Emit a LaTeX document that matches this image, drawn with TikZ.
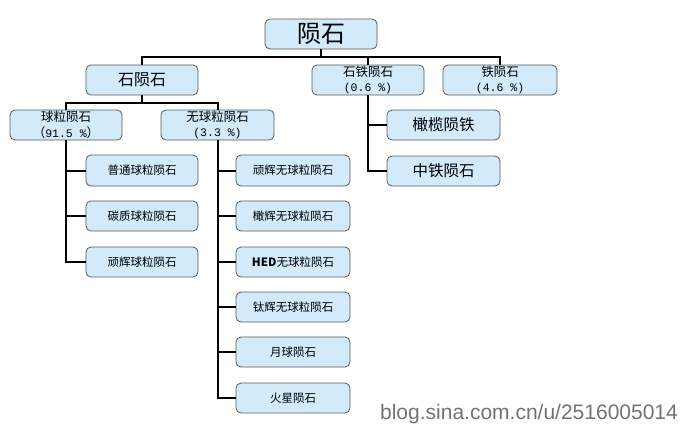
\documentclass[tikz,border=0pt]{standalone}
\usepackage{fontspec}
\setmainfont{Noto Sans CJK SC}
\newfontfamily\wmfont{Liberation Sans}
\newfontfamily\pctfont{Liberation Mono}
\newcommand{\pct}[1]{{\pctfont\fontsize{11.5}{15.5}\selectfont #1}}
\definecolor{boxfill}{HTML}{D2EAFA}
\definecolor{boxline}{HTML}{5A5A5A}
\begin{document}
\begin{tikzpicture}[x=1pt,y=-1pt,
  box/.style={draw=boxline,line width=0.8pt,fill=boxfill,rounded corners=5pt,
    minimum width=112pt,minimum height=30pt,inner sep=0pt,align=center},
  leaf/.style={box,font=\fontsize{11.5}{13}\selectfont},
  twoline/.style={box,font=\fontsize{12.5}{15.5}\selectfont},
  conn/.style={line width=2pt,black}]
\fill[white] (0,0) rectangle (683,432);
\useasboundingbox (0,0) rectangle (683,432);
% level 0
\node[box,font=\fontsize{24}{26}\selectfont] (root) at (321,34) {陨石};
% level 1
\node[box,font=\fontsize{16}{18}\selectfont] (stone) at (142,80) {石陨石};
\node[twoline] (stoneiron) at (368,80) {石铁陨石\\\pct{(0.6 \%)}};
\node[twoline,minimum width=114pt] (iron) at (500,80) {铁陨石\\\pct{(4.6 \%)}};
% level 2
\node[twoline] (chond) at (66,125) {球粒陨石\\（\pct{91.5 \%}）};
\node[twoline,minimum width=113pt] (achond) at (217.5,125) {无球粒陨石\\\pct{(3.3 \%)}};
\node[box,minimum width=113pt,font=\fontsize{15.5}{17}\selectfont] (s1) at (443.5,125) {橄榄陨铁};
\node[box,minimum width=113pt,font=\fontsize{15.5}{17}\selectfont] (s2) at (443.5,171) {中铁陨石};
% chondrite children
\node[leaf,minimum height=31pt] (c1) at (142,170.5) {普通球粒陨石};
\node[leaf] (c2) at (142,216) {碳质球粒陨石};
\node[leaf] (c3) at (142,262) {顽辉球粒陨石};
% achondrite children
\node[leaf,minimum width=114pt,minimum height=31pt] (a1) at (293,170.5) {顽辉无球粒陨石};
\node[leaf,minimum width=114pt] (a2) at (293,216) {橄辉无球粒陨石};
\node[leaf,minimum width=114pt] (a3) at (293,262) {\textbf{HED}无球粒陨石};
\node[leaf,minimum width=114pt] (a4) at (293,307) {钛辉无球粒陨石};
\node[leaf,minimum width=114pt] (a5) at (293,352) {月球陨石};
\node[leaf,minimum width=114pt] (a6) at (293,398) {火星陨石};
% connectors
\coordinate (h1) at (321,57);
\coordinate (h2) at (142,103);
\draw[conn] (root.south) -- (h1);
\draw[conn] (stone.north) |- (h1) -| (iron.north);
\draw[conn] (stoneiron.north) -- (stoneiron.north |- h1);
\draw[conn] (stone.south) -- (h2);
\draw[conn] (chond.north) |- (h2) -| (achond.north);
\draw[conn] (chond.south) |- (c3.west);
\draw[conn] (chond.south |- c1.west) -- (c1.west);
\draw[conn] (chond.south |- c2.west) -- (c2.west);
\draw[conn] (achond.south) |- (a6.west);
\foreach \n in {a1,a2,a3,a4,a5}{\draw[conn] (achond.south |- \n.west) -- (\n.west);}
\draw[conn] (stoneiron.south) |- (s2.west);
\draw[conn] (stoneiron.south |- s1.west) -- (s1.west);
% watermark
\node[text=black!55,font=\wmfont\fontsize{21}{23}\selectfont,inner sep=0pt] (wm) at (529,414) {blog.sina.com.cn/u/2516005014};
\end{tikzpicture}
\end{document}
